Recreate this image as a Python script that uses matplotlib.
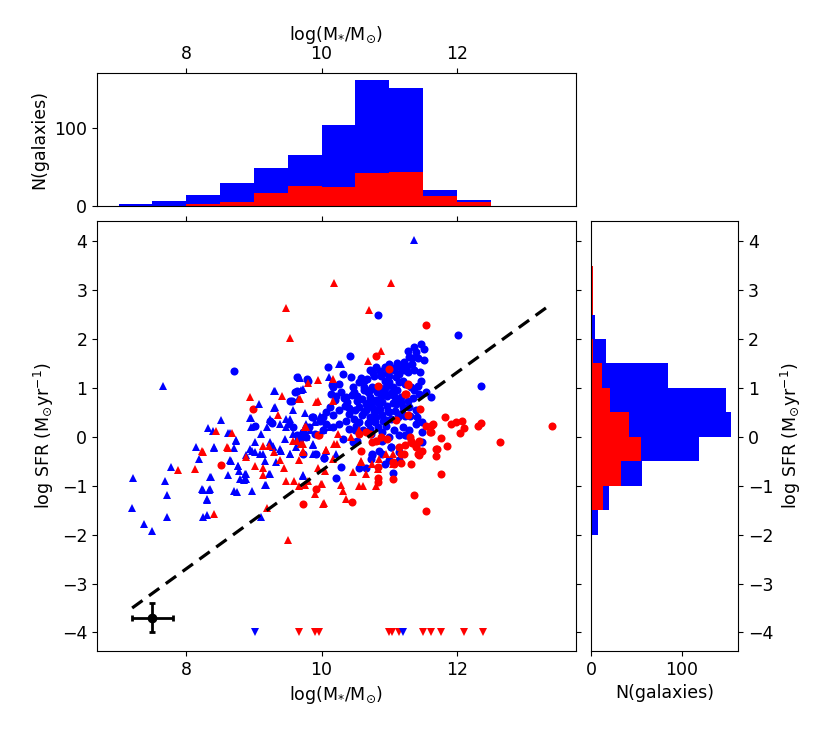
import numpy as np
import matplotlib
matplotlib.use('Agg')
import matplotlib.pyplot as plt

plt.rcParams['font.size'] = 12.5

# blue circles (log M*, log SFR)
bc_x = [10.42, 11.47, 11.37, 11.51, 11.39, 11.27, 11.29, 11.43, 11.51, 11.12, 11.22, 11.34, 11.00, 10.93, 11.07,
        11.22, 11.27, 11.37, 11.45, 11.47, 10.80, 10.71, 10.78, 10.88, 11.00, 11.15, 10.63, 10.56, 10.46, 10.48,
        10.31, 10.44, 10.26, 10.17, 10.14, 10.21, 10.29, 10.36, 10.53, 10.63, 10.68, 10.75, 10.85, 10.95, 11.05,
        11.15, 11.24, 10.93, 11.00, 11.10, 11.20, 10.71, 10.78, 10.88, 10.97, 11.07, 11.17, 11.27, 11.37, 11.44,
        11.54, 11.61, 10.56, 10.66, 10.75, 10.85, 10.97, 11.10, 11.20, 11.29, 11.39, 11.00, 10.90, 10.80, 10.71,
        10.63, 10.12, 10.07, 10.02, 10.17, 10.26, 10.34, 10.41, 10.48, 10.36, 10.26, 10.17, 10.07, 9.97, 9.87,
        9.82, 9.72, 9.63, 9.58, 9.77, 9.90, 10.02, 10.41, 10.51, 10.61, 10.71, 10.83, 10.95, 11.20, 11.29,
        11.39, 11.49, 11.15, 11.24, 11.00, 10.90, 11.02, 11.15, 10.75, 10.29, 10.04, 9.92, 9.72, 9.68, 9.60,
        9.53, 9.80, 9.63, 11.49, 8.70, 10.10, 9.78, 10.15, 9.57, 9.63, 9.02, 9.24, 9.27, 9.86, 10.84,
        12.01, 12.36, 11.05, 10.22, 10.55, 10.65, 10.73, 10.75, 10.85, 10.90, 10.94, 11.00, 11.02, 11.15, 10.04,
        10.31, 10.46, 10.53, 10.49, 10.73, 10.90, 11.07, 11.25, 11.49, 10.60, 10.82, 11.05, 10.38, 10.70, 10.95,
        10.58, 10.67, 10.76, 10.86, 10.96, 11.06, 11.16, 11.26, 11.33, 10.62, 10.72, 10.82, 10.92, 11.02, 11.12,
        11.32, 11.42, 10.52, 10.60, 10.70, 10.80, 10.90, 11.10, 11.18, 10.40, 10.50, 10.65, 10.77, 10.87, 10.98,
        11.08, 11.19, 11.30, 11.41, 10.33, 10.45, 10.56, 10.68, 10.79, 10.91, 11.03, 11.13, 11.23, 11.35, 10.20]
bc_y = [1.66, 1.89, 1.83, 1.80, 1.73, 1.75, 1.64, 1.61, 1.57, 1.51, 1.53, 1.49, 1.48, 1.42, 1.36,
        1.36, 1.32, 1.36, 1.32, 1.14, 1.42, 1.36, 1.25, 1.25, 1.25, 1.29, 1.15, 1.12, 1.01, 0.91,
        1.29, 1.22, 1.08, 1.01, 0.88, 0.84, 0.91, 0.81, 0.84, 1.01, 0.91, 1.01, 1.01, 1.01, 1.01,
        1.12, 1.08, 1.15, 1.12, 1.22, 1.15, 0.81, 0.74, 0.84, 0.84, 0.84, 0.81, 0.74, 0.95, 0.88,
        0.91, 0.81, 0.61, 0.67, 0.61, 0.67, 0.64, 0.67, 0.61, 0.61, 0.54, 0.50, 0.44, 0.40, 0.40,
        0.50, 0.61, 0.50, 0.40, 0.44, 0.54, 0.64, 0.47, 0.37, 0.33, 0.27, 0.20, 0.27, 0.33, 0.40,
        0.20, 0.09, 0.03, 0.20, 0.00, 0.06, 0.13, 0.16, 0.23, 0.13, 0.16, 0.20, 0.23, 0.20, 0.13,
        0.27, 0.30, 0.03, 0.03, 0.00, -0.08, -0.21, -0.31, -0.38, -0.62, -0.43, -0.35, -0.35, -0.04, 0.91,
        0.74, 1.15, 1.22, 0.09, 1.34, 1.42, 1.19, 1.06, 0.74, 0.94, 0.22, 0.33, 0.29, 0.40, 2.49,
        2.09, 1.05, -0.73, -0.85, -0.64, -0.64, -0.45, -0.35, -0.28, -0.35, -0.55, -0.47, -0.21, -0.48, -0.44,
        -0.04, -0.11, -0.08, 0.13, 0.06, 0.09, 0.13, 0.03, -0.11, 0.45, 0.55, 0.70, 0.72, 0.30, 0.35,
        1.20, 1.18, 1.30, 1.35, 1.30, 1.40, 1.42, 1.45, 1.62, 0.95, 0.96, 0.92, 0.93, 0.90, 0.96,
        1.02, 1.05, 0.74, 0.78, 0.72, 0.76, 0.72, 0.76, 0.72, 0.58, 0.55, 0.55, 0.52, 0.56, 0.52,
        0.52, 0.48, 0.42, 0.40, 0.80, 0.85, 0.30, 0.28, 0.30, 0.32, 0.36, 0.40, 0.42, 0.80, 0.75]

# blue triangles
bt_x = [8.52, 8.32, 8.40, 8.15, 8.19, 8.41, 8.64, 8.73, 8.70, 8.66, 8.77, 8.78, 8.61, 8.36, 8.23,
        8.35, 8.31, 8.75, 8.97, 8.88, 8.89, 8.79, 8.95, 8.95, 9.08, 9.31, 8.94, 9.01, 8.89, 9.09,
        9.16, 9.24, 9.18, 9.11, 9.19, 9.24, 9.31, 9.38, 9.48, 9.53, 9.58, 9.65, 9.68, 9.73, 9.58,
        9.65, 9.53, 9.38, 9.28, 9.68, 9.77, 9.87, 9.90, 9.77, 9.91, 9.97, 9.69, 9.01, 9.24, 9.46,
        7.21, 7.20, 7.38, 7.50, 7.78, 7.69, 7.72, 7.71, 8.24, 8.34, 8.31, 8.35, 8.25, 8.31, 8.41,
        9.17, 9.10, 9.72, 7.66, 9.67, 10.11, 9.30, 9.30, 8.62, 8.94, 9.48, 9.51, 9.55, 9.75,
        9.77, 10.25, 10.28, 11.36, 8.65, 8.74, 8.77, 8.85, 8.87, 8.71, 9.23, 9.33, 8.97, 9.14, 9.28,
        9.40, 9.53, 9.62, 9.73, 9.83, 10.02, 10.12, 9.88, 9.87, 10.22, 10.07, 9.72]
bt_y = [0.35, 0.18, 0.11, -0.21, -0.46, -0.23, 0.07, -0.08, -0.23, -0.49, -0.59, -0.70, -0.79, -0.83, -1.06,
        -1.06, -1.27, -1.13, -1.11, -0.76, -0.86, -0.86, 0.39, 0.20, 0.67, 0.93, -0.25, -0.11, -0.38, -0.35,
        -0.49, -0.76, -0.98, 0.06, 0.20, 0.37, 0.61, 0.26, 0.20, 0.37, 0.54, 0.78, 1.21, 0.98, 0.06,
        -0.01, -0.35, -0.25, -0.18, -0.14, -0.01, -0.14, -0.35, 0.26, 0.30, 0.43, 0.96, -0.31, -0.11, -0.04,
        -0.84, -1.45, -1.79, -1.92, -0.62, -0.91, -1.18, -1.64, -1.08, -1.08, -1.29, -0.83, -1.64, -1.59, -0.21,
        -0.98, -1.64, -0.80, 1.05, 1.22, 1.22, 0.93, 0.59, 0.08, 0.39, 0.36, 0.27, 0.29, 0.48,
        0.20, 1.48, 1.49, 4.03, -0.48, -0.06, -0.59, -0.89, -0.76, -1.11, -0.76, -0.52, -0.29, -0.35, -0.21,
        -0.28, -0.35, -0.21, 0.06, 0.13, 0.13, 0.20, -0.16, -0.35, -0.35, -0.28, -0.79]

# red circles
rc_x = [8.98, 9.95, 11.54, 10.80, 11.28, 11.25, 10.83, 11.45, 11.82, 11.91, 11.98, 12.08, 12.10, 12.04, 12.36,
        12.31, 11.63, 11.60, 11.77, 11.54, 13.41, 12.64, 11.85, 11.70, 11.69, 11.76, 11.36, 11.54, 11.32, 11.05,
        10.84, 10.84, 10.45, 9.73, 9.92, 8.51, 11.05, 11.17, 11.17, 11.15, 11.24, 11.34, 11.42, 11.44, 11.49,
        11.40, 11.32, 11.30, 9.96, 10.56, 10.71, 10.58, 10.80, 11.61, 11.00, 11.24, 11.27, 11.10, 11.27,
        11.64, 11.44, 11.39, 11.22, 11.69, 10.66, 10.88, 10.97, 10.75, 10.83, 11.07]
rc_y = [0.56, 0.03, 2.28, 1.65, 1.07, 0.87, 1.04, 0.56, 0.40, 0.27, 0.30, 0.33, 0.18, 0.08, 0.29,
        0.22, 0.25, 0.10, -0.02, 0.22, 0.22, -0.10, -0.19, -0.24, -0.40, -0.76, -1.18, -1.52, -0.55, -0.87,
        -0.84, -0.93, -1.33, -1.38, -1.06, -0.57, -0.52, -0.54, -0.35, -0.21, -0.16, -0.13, -0.35, -0.38, -0.28,
        -0.18, -0.08, -0.01, 0.03, 0.06, 0.06, -0.28, -0.08, 0.09, 1.39, 0.88, 1.08, 0.35, 0.45,
        0.27, -0.08, -0.20, -0.35, -0.25, 0.09, 0.00, -0.04, -0.11, -0.62, -0.55]

# red triangles
rt_x = [10.19, 9.47, 9.53, 11.02, 10.70, 10.88, 10.68, 9.80, 9.94, 10.17, 8.94, 9.42, 9.67, 9.36, 8.44,
        8.67, 9.77, 7.88, 8.13, 8.24, 8.41, 8.60, 9.19, 9.50, 10.03, 9.91, 9.47, 9.59, 9.66, 9.80,
        10.00, 9.94, 10.05, 10.81, 10.55, 10.61, 10.36, 10.02, 10.29, 10.31, 10.47, 10.58, 10.65, 9.95, 8.23,
        8.62, 8.89, 9.01, 9.13, 9.13, 9.14, 9.23, 9.29, 9.38, 9.44, 9.58, 9.73, 9.70, 9.67, 9.75,
        9.99, 9.92, 10.07, 9.76, 10.17, 9.68, 9.75, 9.63, 9.72, 10.19, 10.44, 10.56, 10.80, 10.58, 11.05,
        10.17, 10.24, 11.05, 10.95, 10.85, 10.75, 10.83, 10.23, 10.07, 9.72]
rt_y = [3.14, 2.64, 2.02, 3.14, 2.59, 1.75, 1.56, 1.10, 1.17, 1.19, 0.82, 0.83, 0.78, 0.44, 0.11,
        0.07, 0.20, -0.68, -0.66, -0.31, -1.57, -0.21, -1.45, -2.11, -1.36, -1.17, -0.91, -0.91, -1.00, -0.90,
        -0.96, -0.64, -0.69, -1.00, -1.00, -1.00, -1.27, -1.37, -0.98, -1.10, -0.72, -0.52, -0.76, 0.74, -0.29,
        -0.23, -0.42, -0.59, -0.63, -0.79, -0.19, -0.18, -0.31, -0.47, -0.63, -0.08, -0.28, -0.14, -0.47, -0.98,
        -0.96, 0.71, -0.27, 0.20, 0.74, 0.78, 0.20, -0.08, -0.14, -0.14, 0.00, 0.13, -0.08, -0.49, -0.55,
        -0.45, 0.06, -0.35, -0.35, -0.45, -0.55, -0.65, -0.14, -0.27, -0.31]

# upper limits (log SFR plotted at -4)
ul_blue_x = [9.02, 11.20]
ul_red_x = [9.66, 9.91, 9.96, 11.00, 11.04, 11.14, 11.50, 11.61, 11.76, 12.11, 12.38]
ul_sfr = -4.0

# histograms: counts
mass_edges = [7.0, 7.5, 8.0, 8.5, 9.0, 9.5, 10.0, 10.5, 11.0, 11.5, 12.0, 12.5]
mass_all = [2, 6, 14, 30, 48, 65, 103, 161, 151, 21, 8]
mass_red = [0, 0, 3, 5, 16, 25, 24, 42, 44, 13, 5]
sfr_edges = [-2.5, -2.0, -1.5, -1.0, -0.5, 0.0, 0.5, 1.0, 1.5, 2.0, 2.5, 3.0, 3.5]
sfr_all = [1, 8, 20, 56, 119, 154, 149, 85, 16, 4, 2, 2]
sfr_red = [1, 1, 13, 33, 55, 42, 21, 12, 2, 1, 2, 2]

# dashed relation and typical error
line_x = [7.2, 13.36]
line_y = [-3.5, 2.68]
err_x, err_y, err_dx, err_dy = 7.5, -3.7, 0.3, 0.3

xlim = (6.68, 13.76)
ylim = (-4.38, 4.41)
mlabel = r'log(M$_{*}$/M$_{\odot}$)'
slabel = r'log SFR (M$_{\odot}$yr$^{-1}$)'

fig = plt.figure(figsize=(8.31, 7.31), dpi=100)
ax = fig.add_axes([0.1167, 0.1094, 0.5764, 0.588])
axt = fig.add_axes([0.1167, 0.7182, 0.5764, 0.1819])
axr = fig.add_axes([0.7112, 0.1094, 0.1769, 0.588])

ms = 5.8
ax.plot(bc_x, bc_y, 'o', color='blue', ms=ms, mew=0)
ax.plot(rc_x, rc_y, 'o', color='red', ms=ms, mew=0)
ax.plot(bt_x, bt_y, '^', color='blue', ms=ms + 0.4, mew=0)
ax.plot(rt_x, rt_y, '^', color='red', ms=ms + 0.4, mew=0)
ax.plot(ul_red_x, [ul_sfr] * len(ul_red_x), 'v', color='red', ms=ms + 0.4, mew=0)
ax.plot(ul_blue_x, [ul_sfr] * len(ul_blue_x), 'v', color='blue', ms=ms + 0.4, mew=0)
ax.plot(line_x, line_y, '--', color='black', lw=2.3, dashes=(4, 2.5))
ax.errorbar(err_x, err_y, xerr=err_dx, yerr=err_dy, fmt='o', color='black', ms=6,
            elinewidth=2, capsize=2.5, capthick=2)
ax.set_xlim(xlim)
ax.set_ylim(ylim)
ax.set_xticks([8, 10, 12])
ax.set_yticks(range(-4, 5))
ax.tick_params(top=True, right=True, labeltop=False, labelright=False)
ax.set_xlabel(mlabel)
ax.set_ylabel(slabel)

# top histogram
mw = np.diff(mass_edges)
axt.bar(mass_edges[:-1], mass_all, width=mw, align='edge', color='blue', lw=0)
axt.bar(mass_edges[:-1], mass_red, width=mw, align='edge', color='red', lw=0)
axt.set_xlim(xlim)
axt.set_ylim(0, 170)
axt.set_xticks([8, 10, 12])
axt.set_yticks([0, 100])
axt.tick_params(top=True, bottom=False, labeltop=True, labelbottom=False)
axt.xaxis.set_label_position('top')
axt.set_xlabel(mlabel)
axt.set_ylabel('N(galaxies)')

# right histogram
sw = np.diff(sfr_edges)
axr.barh(sfr_edges[:-1], sfr_all, height=sw, align='edge', color='blue', lw=0)
axr.barh(sfr_edges[:-1], sfr_red, height=sw, align='edge', color='red', lw=0)
axr.set_ylim(ylim)
axr.set_xlim(0, 162)
axr.set_xticks([0, 100])
axr.set_yticks(range(-4, 5))
axr.tick_params(left=False, right=True, labelleft=False, labelright=True)
axr.yaxis.set_label_position('right')
axr.set_xlabel('N(galaxies)')
axr.set_ylabel(slabel)

fig.savefig('out.png', dpi=100)
